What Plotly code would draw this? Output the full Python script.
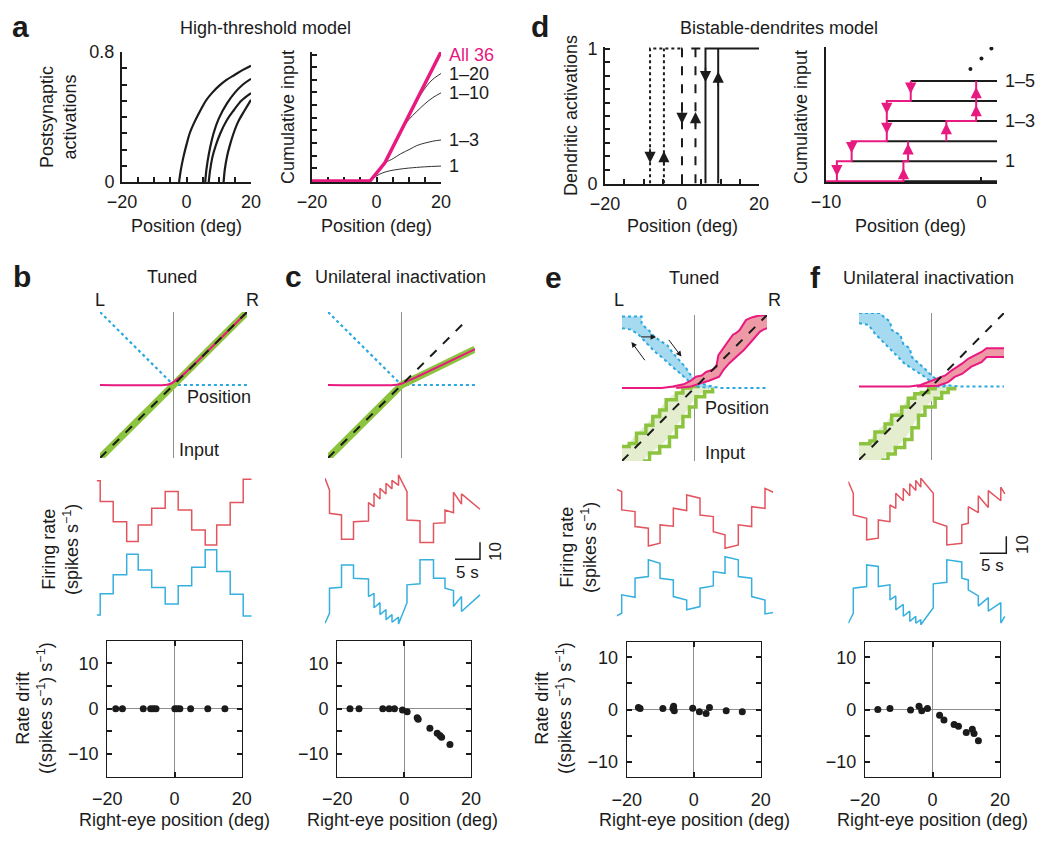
import plotly.graph_objects as go

# the page shows the figure 8 px in from the top-left corner (default body margin),
# so the figure is made 16 px smaller and all pixel positions are shifted by OFF.
W0, H0 = 1050, 844
OFF = 8
W, H = W0 - 2 * OFF, H0 - 2 * OFF
FONT = "Liberation Sans, Arial, Helvetica, sans-serif"
INK = "#1b1b1b"
PINK = "#E8197F"
SKY = "#2AA8DE"
TR_RED = "#E2545E"
TR_SKY = "#36B0DF"
GREEN = "#8CC43F"
GREEN_FILL = "#E4EDCD"
SKY_FILL = "#A6DAF0"
RED_FILL = "#EE9AA6"
GRAY = "#8E8E8E"

# ================= DATA =================
# ---- panel a, left: postsynaptic activations ----
pos_ticks = [-20, -15, -10, -5, 0, 5, 10, 15, 20]
pos_ticktext = ["−20", "", "", "", "0", "", "", "", "20"]
act_ticks = [0, 0.1, 0.2, 0.3, 0.4, 0.5, 0.6, 0.7, 0.8]
act_ticktext = ["0", "", "", "", "", "", "", "", "0.8"]

syn1_x = [-2.3, -1.8, -1.0, 0.0, 1.0, 2.5, 4.3, 6.0, 8.0, 10.0, 12.5, 15.0, 17.5, 20.0]
syn1_y = [0.0, 0.07, 0.15, 0.23, 0.30, 0.37, 0.44, 0.50, 0.55, 0.59, 0.63, 0.66, 0.69, 0.716]
syn2_x = [5.8, 6.2, 7.0, 8.4, 10.0, 12.6, 15.0, 17.5, 20.0]
syn2_y = [0.0, 0.08, 0.18, 0.30, 0.39, 0.485, 0.55, 0.60, 0.635]
syn3_x = [6.9, 7.3, 8.0, 9.0, 10.5, 12.5, 14.6, 17.0, 20.0]
syn3_y = [0.0, 0.07, 0.15, 0.22, 0.30, 0.38, 0.44, 0.50, 0.547]
syn4_x = [11.5, 11.9, 12.6, 13.5, 14.6, 16.0, 18.0, 20.0]
syn4_y = [0.0, 0.08, 0.16, 0.23, 0.30, 0.37, 0.44, 0.506]

# ---- panel a, right: cumulative input ----
cum_ticks = list(range(0, 11))
all36_x = [-20, -2.0, 2.6, 20]
all36_y = [0, 0, 1.44, 10.2]
sum1_x = [-2.0, 0.0, 2.0, 4.0, 7.0, 10.0, 15.0, 20.0]
sum1_y = [0.0, 0.4, 0.65, 0.80, 0.93, 1.02, 1.12, 1.18]
sum3_x = [-2.0, 2.6, 4.0, 5.2, 7.5, 10.4, 12.5, 15.0, 17.5, 20.0]
sum3_y = [0.0, 1.44, 1.62, 1.78, 2.15, 2.52, 2.80, 3.00, 3.15, 3.24]
sum10_x = [2.6, 8.0, 10.0, 12.5, 15.0, 17.5, 20.0]
sum10_y = [1.44, 4.1, 4.85, 5.5, 6.1, 6.6, 6.97]
sum20_x = [2.6, 12.0, 14.0, 16.5, 18.0, 20.0]
sum20_y = [1.44, 6.05, 6.95, 7.8, 8.15, 8.5]
cum_labels = ["All 36", "1–20", "1–10", "1–3", "1"]
cum_label_y = [10.0, 8.5, 6.97, 3.24, 1.18]

# ---- panel d, left: dendritic activations (three bistable dendrites) ----
dend_ticks = [round(0.1 * i, 1) for i in range(11)]
dend_ticktext = ["0"] + [""] * 9 + ["1"]
dend_down = [-8.3, 0.0, 6.1]      # switch-off positions
dend_up = [-4.7, 3.5, 9.4]        # switch-on positions
dend_top_end = [0.0, 6.1, 20.0]
dend_dash = ["dot", "dash", "solid"]
dend_down_tip = [0.15, 0.44, 0.75]
dend_up_tip = [0.24, 0.53, 0.83]

# ---- panel d, right: cumulative input staircase ----
stair_level = [0, 1, 2, 3, 4, 5]
stair_start = [-5.02, -8.35, -6.09, -6.09, -4.55, -4.55]
stair_end = 1.0
stair_labels = ["1", "1–3", "1–5"]
stair_label_level = [1, 3, 5]
loop_up_x = [-10.0, -5.02, -5.02, -4.72, -4.72]
loop_up_y = [0, 0, 1, 1, 2]
loop_up2_x = [-2.26, -2.26, -0.34, -0.34]
loop_up2_y = [2, 3, 3, 5]
loop_down_x = [-4.55, -4.55, -6.09, -6.09, -8.35, -8.35, -9.3, -9.3]
loop_down_y = [5, 4, 4, 2, 2, 1, 1, 0]
up_arrow_x = [-5.02, -4.72, -2.26, -0.34, -0.34]
up_arrow_tip = [0.66, 1.9, 2.9, 3.8, 4.7]
down_arrow_x = [-9.3, -8.35, -6.09, -6.09, -4.55]
down_arrow_tip = [0.25, 1.4, 2.36, 3.35, 4.37]
more_x = [-0.71, 0.0, 0.64]
more_y = [5.6, 6.13, 6.62]

# ---- panels b, c: schematic tuning (normalized) ----
diag = [-1, 1]
b_pink_x = [-1, -0.12, -0.06, 0.0, 0.06, 0.12, 1.0]
b_pink_y = [0, 0, 0.01, 0.04, 0.085, 0.13, 1.0]
left_x = [-1, 0, 1]
left_y = [1, 0, 0]
c_green_x = [-1, 0, 1]
c_green_y = [-1, 0, 0.49]
c_pink_x = [-1, -0.1, -0.03, 0.03, 1]
c_pink_y = [0, 0, 0.01, 0.03, 0.49]
c_dash = [-1, 0.85]

# ---- panel e: schematic bands ----
e_sky_up_x = [-1, -0.73, -0.73, -0.62, -0.55, -0.45, -0.37, -0.30, -0.21, -0.12, -0.07, 0.0, 0.07, 0.2, 0.35, 1.0]
e_sky_up_y = [0.98, 0.98, 0.88, 0.78, 0.70, 0.64, 0.58, 0.48, 0.38, 0.28, 0.20, 0.12, 0.07, 0.03, 0.0, 0.0]
e_sky_lo_x = [-1, -0.88, -0.78, -0.67, -0.55, -0.45, -0.35, -0.25, -0.15, -0.05, 0.05, 0.2]
e_sky_lo_y = [0.82, 0.80, 0.74, 0.62, 0.50, 0.42, 0.33, 0.24, 0.15, 0.07, 0.02, 0.0]
e_red_up_x = [-1, -0.45, -0.3, -0.15, -0.05, 0.02, 0.1, 0.16, 0.25, 0.30, 0.33, 0.41, 0.45, 0.53, 0.57, 0.62, 0.66, 0.71, 0.75, 0.80, 0.88, 1.0]
e_red_up_y = [0, 0, 0.02, 0.05, 0.10, 0.155, 0.17, 0.22, 0.25, 0.29, 0.45, 0.57, 0.62, 0.73, 0.75, 0.79, 0.86, 0.93, 0.95, 0.97, 0.99, 1.0]
e_red_lo_x = [-0.25, -0.05, 0.07, 0.2, 0.34, 0.40, 0.48, 0.55, 0.62, 0.68, 0.76, 0.82, 0.90, 0.95, 1.0]
e_red_lo_y = [0, 0.02, 0.06, 0.10, 0.155, 0.25, 0.34, 0.40, 0.47, 0.52, 0.61, 0.68, 0.77, 0.80, 0.82]
e_grn_up_x = [-1, -0.9, -0.8, -0.67, -0.575, -0.48, -0.39, -0.25, -0.16, -0.05, 0.05]
e_grn_up_y = [-0.8, -0.76, -0.62, -0.51, -0.39, -0.30, -0.16, -0.07, 0.0, 0.02, 0.03]
e_grn_lo_x = [-0.71, -0.62, -0.48, -0.345, -0.25, -0.16, -0.07, 0.02, 0.14, 0.25]
e_grn_lo_y = [-1.0, -0.89, -0.80, -0.67, -0.53, -0.39, -0.26, -0.12, -0.05, 0.0]
e_arrows = [(-0.67, 0.36, -0.87, 0.63), (-0.76, 0.70, -0.53, 0.70), (-0.37, 0.68, -0.18, 0.43)]

# ---- panel f: schematic bands ----
f_sky_up_x = [-1, -0.71, -0.66, -0.57, -0.55, -0.43, -0.39, -0.30, -0.27, -0.16, -0.09, 0.0, 0.09, 0.19, 0.4, 1.0]
f_sky_up_y = [1.0, 1.0, 0.95, 0.88, 0.77, 0.70, 0.58, 0.52, 0.40, 0.31, 0.24, 0.15, 0.08, 0.02, 0.0, 0.0]
f_sky_lo_x = [-1, -0.87, -0.78, -0.69, -0.6, -0.5, -0.37, -0.23, -0.09, 0.0, 0.07, 0.2]
f_sky_lo_y = [0.86, 0.84, 0.72, 0.63, 0.54, 0.45, 0.31, 0.22, 0.13, 0.06, 0.0, 0.0]
f_red_up_x = [-1, -0.3, -0.15, -0.05, 0.05, 0.19, 0.28, 0.35, 0.42, 0.51, 0.60, 0.69, 0.76, 0.85, 1.0]
f_red_up_y = [0, 0, 0.02, 0.06, 0.105, 0.15, 0.22, 0.26, 0.31, 0.38, 0.42, 0.47, 0.52, 0.52, 0.52]
f_red_lo_x = [-0.2, 0.0, 0.09, 0.23, 0.32, 0.42, 0.49, 0.55, 0.69, 0.76, 1.0]
f_red_lo_y = [0.0, 0.0, 0.01, 0.06, 0.13, 0.17, 0.22, 0.27, 0.33, 0.40, 0.40]
f_grn_up_x = [-1, -0.85, -0.78, -0.64, -0.55, -0.41, -0.32, -0.23, -0.14, -0.04, 0.05]
f_grn_up_y = [-0.78, -0.74, -0.62, -0.51, -0.39, -0.28, -0.16, -0.10, -0.08, -0.03, 0.01]
f_grn_lo_x = [-0.69, -0.60, -0.50, -0.37, -0.27, -0.18, -0.09, 0.05, 0.14, 0.23, 0.32]
f_grn_lo_y = [-1.0, -0.92, -0.83, -0.72, -0.56, -0.39, -0.28, -0.16, -0.08, -0.03, 0.0]

# ---- firing-rate traces (time s, rate spikes/s) ----
b_time = [0, 0.7, 3.3, 6.0, 8.3, 11.0, 13.7, 16.3, 19.0, 21.7, 24.0, 26.7, 29.3, 31.0]
b_red = [87.8, 75.5, 63.7, 52.0, 61.8, 71.6, 81.4, 70.6, 58.8, 50.0, 61.8, 74.9, 88.6, 88.6]
b_sky = [8.8, 21.2, 32.4, 44.5, 35.3, 24.9, 15.3, 25.9, 36.9, 47.1, 34.3, 21.0, 8.2, 8.2]

c_time = [0, 0.9, 0.9, 3.3, 3.3, 5.7, 5.7, 8.7, 8.7, 9.8, 9.8, 11.0, 11.0, 12.2, 12.2, 13.4, 13.4, 14.7,
          14.7, 16.4, 16.4, 19.0, 19.0, 21.7, 21.7, 24.0, 24.0, 25.7, 25.7, 27.3, 27.3, 31.0]
c_red = [89.2, 82.4, 68.6, 67.6, 53.3, 53.3, 63.7, 64.1, 74.9, 72.5, 80.4, 77.0, 83.3, 80.0, 86.3, 83.0, 88.0, 85.0,
         91.2, 81.4, 64.7, 64.3, 51.4, 51.4, 62.7, 63.1, 70.6, 69.0, 81.0, 74.0, 80.0, 71.0]
c_sky = [3.9, 9.8, 24.5, 25.1, 38.2, 38.2, 30.4, 30.0, 19.6, 21.5, 13.0, 16.0, 9.0, 12.0, 6.0, 9.0, 4.5, 7.5,
         3.5, 16.0, 26.5, 27.1, 41.2, 41.2, 30.4, 30.4, 24.5, 23.1, 13.7, 19.6, 10.8, 20.6]

e_time = [0, 1, 1, 3.67, 3.67, 6.33, 6.33, 8.67, 8.67, 11.33, 11.33, 14, 14, 16.67, 16.67, 19.33, 19.33,
          21.67, 21.67, 24.33, 24.33, 27, 27, 29.67, 29.67, 31.33]
e_red = [82.7, 81.4, 70.6, 69.6, 60.8, 59.8, 49.4, 51.0, 61.8, 61.0, 71.6, 70.2, 79.4, 77.5, 67.6, 66.7, 57.8,
         55.9, 48.0, 50.0, 61.8, 60.8, 72.5, 71.5, 83.3, 81.0]
e_sky = [8.2, 9.8, 20.6, 19.2, 30.4, 31.4, 41.2, 39.2, 30.4, 29.4, 19.6, 17.6, 11.8, 13.7, 24.5, 25.9, 34.3,
         33.3, 43.1, 41.2, 31.4, 30.4, 19.6, 17.6, 9.4, 10.2]

f_time = [0, 1, 1, 3.67, 3.67, 6, 6, 8.33, 8.33, 9.5, 9.5, 11, 11, 12.3, 12.3, 13.5, 13.5, 14.5, 14.5, 17,
          17, 19.7, 19.7, 22.7, 22.7, 24, 24, 26, 26, 28, 28, 30.5, 30.5, 31.3]
f_red = [87.3, 80.4, 67.6, 65.7, 53.0, 54.0, 64.7, 63.7, 73.5, 71.5, 80.4, 76.0, 83.3, 79.0, 86.0, 82.0, 88.0,
         84.0, 89.2, 80.4, 63.7, 61.0, 50.0, 51.0, 61.8, 62.7, 72.5, 69.0, 79.0, 72.0, 82.0, 76.0, 84.0, 80.0]
f_sky = [3.9, 9.8, 24.5, 25.5, 38.2, 37.3, 25.5, 26.5, 17.6, 20.0, 11.8, 15.0, 8.0, 11.0, 5.0, 8.0, 3.9,
         6.0, 3.0, 13.0, 27.1, 28.0, 41.2, 40.0, 30.4, 29.4, 23.5, 20.0, 14.0, 19.0, 11.0, 16.0, 4.0, 8.0]

# scale bars: 5 s and 10 spikes/s
c_bar_t = [26.0, 31.0]
c_bar_r = [41.6, 51.6]
f_bar_t = [26.3, 31.6]
f_bar_r = [45.1, 55.1]

# ---- rate drift vs right-eye position ----
drift_xticks = [-20, 0, 20]
drift_xtext = ["−20", "0", "20"]
drift_yticks = [-10, -5, 0, 5, 10]
drift_ytext = ["−10", "", "0", "", "10"]
b_pos = [-17.5, -15.5, -9.3, -7.1, -6.3, -5.5, 0.1, 0.8, 1.6, 4.8, 9.9, 15.0]
b_drift = [0.0] * 12
c_pos = [-16.2, -13.5, -6.4, -4.5, -2.9, -0.5, 0.9, 3.9, 4.2, 7.7, 9.9, 10.7, 11.2, 13.7]
c_drift = [0.0, 0.0, 0.0, 0.0, 0.0, -0.3, -0.7, -2.0, -2.3, -4.3, -5.4, -5.9, -6.3, -7.9]
e_pos = [-16.5, -16.0, -9.2, -6.2, -6.0, -5.8, -0.3, 1.7, 3.7, 4.7, 9.7, 14.5]
e_drift = [0.4, 0.2, 0.2, 0.2, 0.6, -0.25, 0.25, -0.45, -0.75, 0.4, -0.25, -0.45]
f_pos = [-16.2, -12.6, -6.5, -4.0, -3.2, -1.5, 2.1, 3.4, 6.4, 7.7, 10.0, 11.8, 12.3, 13.6]
f_drift = [0.0, 0.2, -0.1, 0.6, -0.25, 0.2, -1.1, -2.0, -2.9, -3.2, -4.4, -3.8, -4.6, -6.0]

# ================= LAYOUT HELPERS =================
BOX = {  # pixel boxes on the page: x0, x1, y0 (top), y1 (bottom)
    1: (122, 251, 52, 182), 2: (312, 441, 52, 182),
    3: (605, 759, 47, 184), 4: (826, 997, 47, 182),
    5: (100, 247, 312, 458), 6: (328, 475, 312, 458),
    7: (622, 767, 315, 461), 8: (859, 1004, 313, 460),
    9: (96.7, 251.7, 470, 628), 10: (325, 485, 470, 628),
    11: (616.7, 773.3, 470, 628), 12: (848.3, 1012, 470, 628),
    13: (107.3, 241.7, 640.7, 776.7), 14: (337.3, 471, 640.7, 776.7),
    15: (626.7, 760.7, 641.7, 777.3), 16: (865, 1000, 641.7, 777.3),
}


def fx(px):
    return (px - OFF) / W


def fy(py):
    return 1 - (py - OFF) / H


def xa(n):
    return "x" if n == 1 else f"x{n}"


def ya(n):
    return "y" if n == 1 else f"y{n}"


fig = go.Figure()
axes = {}


def make_axes(n, kind, xr, yr, xo_extra=None, yo_extra=None):
    x0, x1, y0, y1 = BOX[n]
    if kind == "hidden":
        xo, yo = dict(visible=False), dict(visible=False)
    else:
        base = dict(showline=True, linecolor=INK, linewidth=2, ticks="inside", ticklen=5,
                    tickwidth=1.5, tickcolor=INK, showgrid=False, zeroline=False,
                    tickfont=dict(size=18, color=INK, family=FONT), ticklabelstandoff=2)
        if kind == "box":
            base.update(mirror="ticks", linewidth=1.3, zeroline=True, zerolinecolor=GRAY,
                        zerolinewidth=1, ticklen=5)
        xo, yo = dict(base), dict(base)
    xo.update(domain=[fx(x0), fx(x1)], range=xr, anchor=ya(n), fixedrange=True, automargin=False)
    yo.update(domain=[fy(y1), fy(y0)], range=yr, anchor=xa(n), fixedrange=True, automargin=False)
    if xo_extra:
        xo.update(xo_extra)
    if yo_extra:
        yo.update(yo_extra)
    axes["xaxis" if n == 1 else f"xaxis{n}"] = xo
    axes["yaxis" if n == 1 else f"yaxis{n}"] = yo


def add(n, x, y, color=INK, width=2, dash="solid", shape="linear", mode="lines", **kw):
    fig.add_trace(go.Scatter(x=x, y=y, mode=mode, xaxis=xa(n), yaxis=ya(n), showlegend=False,
                             hoverinfo="skip",
                             line=dict(color=color, width=width, dash=dash, shape=shape), **kw))


ann = []


def txt(s, px, py, size=18, xanchor="center", color=INK, bold=False, angle=0):
    ann.append(dict(text=f"<b>{s}</b>" if bold else s, x=fx(px), y=fy(py), xref="paper",
                    yref="paper", xanchor=xanchor, yanchor="middle", showarrow=False,
                    font=dict(size=size, color=color, family=FONT), textangle=angle))


def arrow(n, x, y, axv, ayv, color, width=1.5, size=1.5, head=2):
    ann.append(dict(x=x, y=y, ax=axv, ay=ayv, xref=xa(n), yref=ya(n), axref=xa(n), ayref=ya(n),
                    showarrow=True, arrowhead=head, arrowsize=size, arrowwidth=width,
                    arrowcolor=color, text=""))


# ================= PANEL a =================
make_axes(1, "plain", [-20, 20], [0, 0.8],
          dict(tickvals=pos_ticks, ticktext=pos_ticktext),
          dict(tickvals=act_ticks, ticktext=act_ticktext))
for sx, sy in [(syn1_x, syn1_y), (syn2_x, syn2_y), (syn3_x, syn3_y), (syn4_x, syn4_y)]:
    add(1, sx, sy, width=2.2, shape="spline")

make_axes(2, "plain", [-20, 20], [-0.08, 10.2],
          dict(tickvals=pos_ticks, ticktext=pos_ticktext, layer="below traces"),
          dict(tickvals=cum_ticks, showticklabels=False, layer="below traces"))
for sx, sy in [(sum1_x, sum1_y), (sum3_x, sum3_y), (sum10_x, sum10_y), (sum20_x, sum20_y)]:
    add(2, sx, sy, color="#333333", width=1, shape="spline")
add(2, all36_x, all36_y, color=PINK, width=3.5)
for lab, ly in zip(cum_labels, cum_label_y):
    ann.append(dict(text=lab, x=fx(447), y=ly, xref="paper", yref="y2", xanchor="left",
                    yanchor="middle", showarrow=False,
                    font=dict(size=18, family=FONT, color=PINK if lab == "All 36" else INK)))

# ================= PANEL d =================
make_axes(3, "plain", [-20, 20], [-0.005, 1.012],
          dict(tickvals=pos_ticks, ticktext=pos_ticktext),
          dict(tickvals=dend_ticks, ticktext=dend_ticktext))
for dn, up, te, ds, dt, ut in zip(dend_down, dend_up, dend_top_end, dend_dash, dend_down_tip, dend_up_tip):
    add(3, [dn, dn, te, None, up, up], [0, 1, 1, None, 0, 1], width=2, dash=ds)
    arrow(3, dn, dt, dn, dt + 0.12, INK)
    arrow(3, up, ut, up, ut - 0.12, INK)

make_axes(4, "plain", [-10, 1.0], [-0.04, 6.7],
          dict(tickvals=[-10, 0], ticktext=["−10", "0"], layer="below traces"),
          dict(tickvals=[6.7], showticklabels=False, layer="below traces"))
sx, sy = [], []
for lv, st in zip(stair_level, stair_start):
    sx += [st, stair_end, None]
    sy += [lv, lv, None]
add(4, sx, sy, width=2)
add(4, loop_up_x, loop_up_y, color=PINK, width=2)
add(4, loop_up2_x, loop_up2_y, color=PINK, width=2)
add(4, loop_down_x, loop_down_y, color=PINK, width=2)
for x, t in zip(up_arrow_x, up_arrow_tip):
    arrow(4, x, t, x, t - 0.3, PINK)
for x, t in zip(down_arrow_x, down_arrow_tip):
    arrow(4, x, t, x, t + 0.3, PINK)
add(4, more_x, more_y, mode="markers", marker=dict(size=4, color=INK))
for lab, lv in zip(stair_labels, stair_label_level):
    ann.append(dict(text=lab, x=fx(1003), y=lv, xref="paper", yref="y4", xanchor="left",
                    yanchor="middle", showarrow=False, font=dict(size=18, family=FONT, color=INK)))

# ================= PANELS b, c schematic =================
for n in (5, 6, 7, 8):
    make_axes(n, "hidden", [-1, 1], [-1, 1])
# b
add(5, [0, 0], [-1, 1], color=GRAY, width=1)
add(5, left_x, left_y, color=SKY, width=2.2, dash="dot")
add(5, diag, diag, color=GREEN, width=7)
add(5, b_pink_x, b_pink_y, color=PINK, width=2, shape="spline")
add(5, diag, diag, color=INK, width=2, dash="dash")
# c
add(6, [0, 0], [-1, 1], color=GRAY, width=1)
add(6, left_x, left_y, color=SKY, width=2.2, dash="dot")
add(6, c_green_x, c_green_y, color=GREEN, width=7)
add(6, c_pink_x, c_pink_y, color=PINK, width=2, shape="spline")
add(6, c_dash, c_dash, color=INK, width=2, dash="dash")


def bands(n, gux, guy, glx, gly, sux, suy, slx, sly, rux, ruy, rlx, rly):
    add(n, [0, 0], [-1, 1], color=GRAY, width=1)
    # green band
    add(n, gux + glx[::-1] + [-1], guy + gly[::-1] + [-1], color=GREEN_FILL, width=0,
        fill="toself", fillcolor=GREEN_FILL)
    add(n, gux, guy, color=GREEN, width=3.5, shape="hv")
    add(n, glx, gly, color=GREEN, width=3.5, shape="hv")
    # sky band
    add(n, sux + slx[::-1], suy + sly[::-1], color=SKY_FILL, width=0, fill="toself", fillcolor=SKY_FILL)
    add(n, sux, suy, color=SKY, width=2, dash="dot")
    add(n, slx, sly, color=SKY, width=2, dash="dot")
    # red band
    add(n, rux + rlx[::-1], ruy + rly[::-1], color=RED_FILL, width=0, fill="toself", fillcolor=RED_FILL)
    add(n, rux, ruy, color=PINK, width=2)
    add(n, rlx, rly, color=PINK, width=2)
    add(n, diag, diag, color=INK, width=2, dash="dash")


bands(7, e_grn_up_x, e_grn_up_y, e_grn_lo_x, e_grn_lo_y, e_sky_up_x, e_sky_up_y, e_sky_lo_x, e_sky_lo_y,
      e_red_up_x, e_red_up_y, e_red_lo_x, e_red_lo_y)
for (tx, ty, hx, hy) in e_arrows:
    arrow(7, hx, hy, tx, ty, INK, width=1, size=1.1, head=2)
bands(8, f_grn_up_x, f_grn_up_y, f_grn_lo_x, f_grn_lo_y, f_sky_up_x, f_sky_up_y, f_sky_lo_x, f_sky_lo_y,
      f_red_up_x, f_red_up_y, f_red_lo_x, f_red_lo_y)

# ================= firing-rate traces =================
RATE_RANGE = [1.1, 94.1]
make_axes(9, "hidden", [0, 31], RATE_RANGE)
make_axes(10, "hidden", [0, 32], RATE_RANGE)
make_axes(11, "hidden", [0, 31.33], RATE_RANGE)
make_axes(12, "hidden", [0, 32.74], RATE_RANGE)
add(9, b_time, b_red, color=TR_RED, width=1.5, shape="hv")
add(9, b_time, b_sky, color=TR_SKY, width=1.5, shape="hv")
add(10, c_time, c_red, color=TR_RED, width=1.5)
add(10, c_time, c_sky, color=TR_SKY, width=1.5)
add(11, e_time, e_red, color=TR_RED, width=1.5)
add(11, e_time, e_sky, color=TR_SKY, width=1.5)
add(12, f_time, f_red, color=TR_RED, width=1.5)
add(12, f_time, f_sky, color=TR_SKY, width=1.5)
add(10, [c_bar_t[0], c_bar_t[1], c_bar_t[1]], [c_bar_r[0], c_bar_r[0], c_bar_r[1]], width=1.5)
add(12, [f_bar_t[0], f_bar_t[1], f_bar_t[1]], [f_bar_r[0], f_bar_r[0], f_bar_r[1]], width=1.5)

# ================= rate drift scatter =================
for n, yr in [(13, [-15, 15]), (14, [-15, 15]), (15, [-13, 13]), (16, [-13, 13])]:
    make_axes(n, "box", [-20, 20], yr, dict(tickvals=drift_xticks, ticktext=drift_xtext, ticklabelstandoff=6),
              dict(tickvals=drift_yticks, ticktext=drift_ytext, ticklabelstandoff=4))
for n, px_, py_ in [(13, b_pos, b_drift), (14, c_pos, c_drift), (15, e_pos, e_drift), (16, f_pos, f_drift)]:
    add(n, px_, py_, mode="markers", marker=dict(size=7, color=INK))

# ================= TEXT =================
txt("a", 20, 27, size=30, bold=True)
txt("High-threshold model", 265, 28)
txt("d", 540, 27, size=30, bold=True)
txt("Bistable-dendrites model", 779, 28)
txt("Postsynaptic<br>activations", 58, 117, angle=-90)
txt("Cumulative input", 288, 117, angle=-90)
txt("Dendritic activations", 571, 116, angle=-90)
txt("Cumulative input", 801, 117, angle=-90)
for cx in (186, 376, 682, 910):
    txt("Position (deg)", cx, 226)

txt("b", 22, 276, size=30, bold=True)
txt("Tuned", 172, 277)
txt("c", 293, 276, size=30, bold=True)
txt("Unilateral inactivation", 400, 277)
txt("e", 553, 277, size=30, bold=True)
txt("Tuned", 694, 278)
txt("f", 815, 277, size=30, bold=True)
txt("Unilateral inactivation", 928, 278)
txt("L", 100, 300)
txt("R", 253, 300)
txt("L", 619, 300)
txt("R", 774, 300)
txt("Position", 185, 397, xanchor="left")
txt("Input", 177, 450, xanchor="left")
txt("Position", 703, 408, xanchor="left")
txt("Input", 703, 453, xanchor="left")

txt("Firing rate<br>(spikes s<sup>−1</sup>)", 60, 550, angle=-90)
txt("Firing rate<br>(spikes s<sup>−1</sup>)", 578, 548, angle=-90)
txt("5 s", 467, 572, size=17)
txt("10", 495, 552, size=17, angle=-90)
txt("5 s", 992, 565, size=17)
txt("10", 1022, 545, size=17, angle=-90)

txt("Rate drift<br>((spikes s<sup>−1</sup>) s<sup>−1</sup>)", 34, 708, angle=-90)
txt("Rate drift<br>((spikes s<sup>−1</sup>) s<sup>−1</sup>)", 553, 708, angle=-90)
for cx in (174, 402, 694, 932):
    txt("Right-eye position (deg)", cx, 820)

fig.update_layout(template="none", width=W, height=H,
                  margin=dict(l=0, r=0, t=0, b=0, pad=0, autoexpand=False),
                  paper_bgcolor="white", plot_bgcolor="white", showlegend=False, annotations=ann,
                  font=dict(family=FONT, color=INK), **axes)
fig.write_html("out.html")
